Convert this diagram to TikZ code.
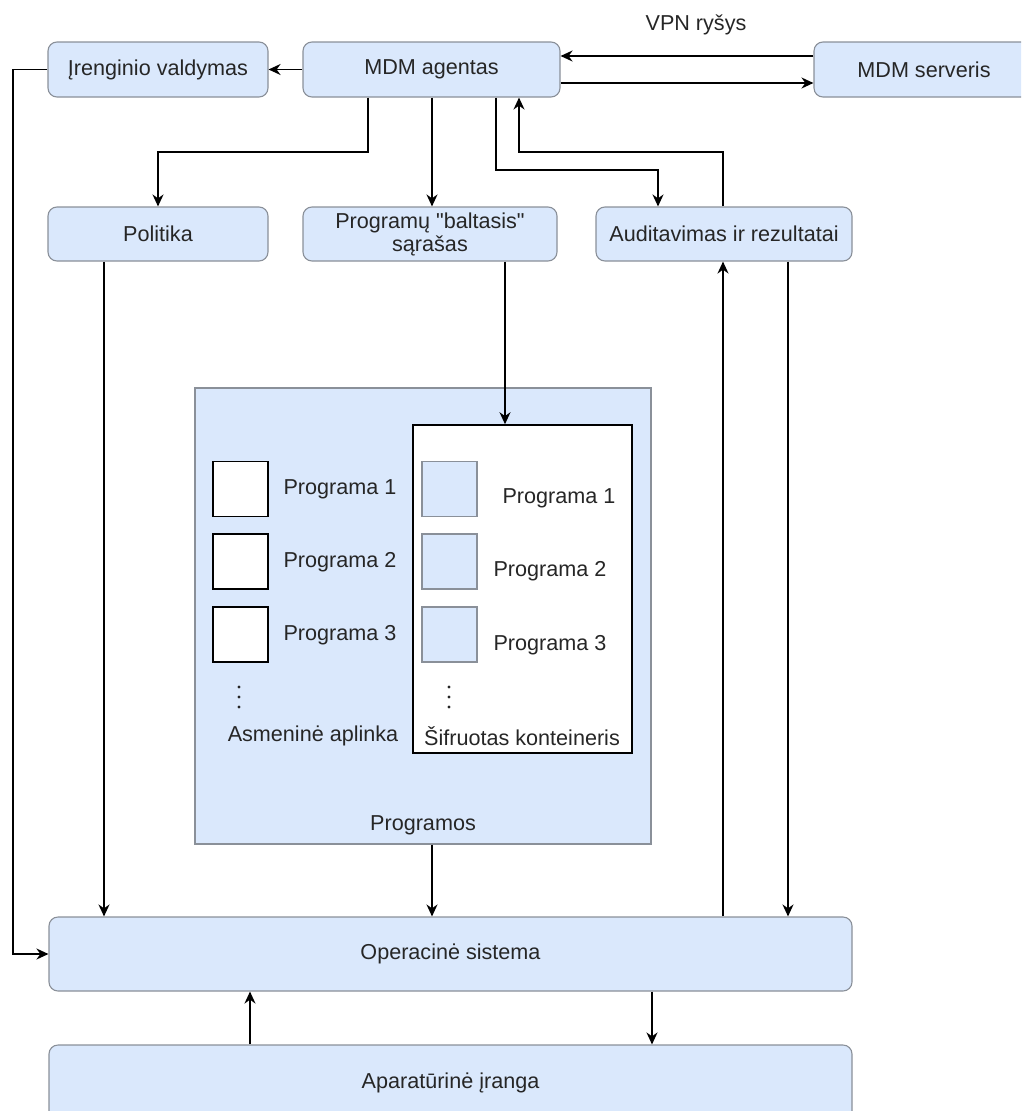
\documentclass[tikz,border=0pt]{standalone}
\usepackage{fontspec}
\setmainfont{Liberation Sans}
\usetikzlibrary{arrows.meta}
\definecolor{boxfill}{HTML}{DAE8FC}
\definecolor{boxline}{HTML}{8A9099}
\definecolor{txt}{HTML}{262626}
\begin{document}
\begin{tikzpicture}[x=1pt,y=-1pt,
  fnt/.style={font=\fontsize{21.6}{24}\selectfont},
  box/.style={draw=boxline, fill=boxfill, rounded corners=9pt, line width=1.1pt, text=txt, fnt, align=center, inner sep=0pt},
  sqbox/.style={draw=boxline, fill=boxfill, line width=1.1pt, inner sep=0pt},
  whitebox/.style={draw=black, fill=white, line width=1.6pt, inner sep=0pt},
  lbl/.style={text=txt, fnt, inner sep=0pt},
  conn/.style={draw=black, line width=1.7pt, -{Stealth[length=12pt,width=11pt]}},
  dot/.style={fill=txt, circle, inner sep=0pt, minimum size=3.4pt}]
\useasboundingbox (0,0) rectangle (1021,1111);
\clip (0,0) rectangle (1021,1111);

% top row
\node[box, minimum width=220pt, minimum height=55pt] (irv) at (158,69.5) {Įrenginio valdymas};
\node[box, minimum width=257pt, minimum height=55pt] (agent) at (431.5,69.5) {MDM agentas};
\node[box, minimum width=220pt, minimum height=55pt] (server) at (924,69.5) {MDM serveris};
\node[lbl] (vpn) at (696,25) {VPN ryšys};

% second row
\node[box, minimum width=220pt, minimum height=54pt] (pol) at (158,234) {Politika};
\node[box, minimum width=254pt, minimum height=54pt] (list) at (430,234) {Programų \textquotedbl baltasis\textquotedbl\\[-1pt]sąrašas};
\node[box, minimum width=256pt, minimum height=54pt] (audit) at (724,234) {Auditavimas ir rezultatai};

% programos block
\node[sqbox, minimum width=456pt, minimum height=456pt] (progs) at (423,616) {};
\node[lbl] (progslbl) at (423,825) {Programos};
\node[whitebox, minimum width=219pt, minimum height=328pt] (cont) at (522.5,589) {};

\node[whitebox, minimum width=55pt, minimum height=55pt] (l1) at (240.5,489) {};
\node[whitebox, minimum width=55pt, minimum height=55pt] (l2) at (240.5,561.5) {};
\node[whitebox, minimum width=55pt, minimum height=55pt] (l3) at (240.5,634.5) {};
\node[lbl] (l1t) at (340,489) {Programa 1};
\node[lbl] (l2t) at (340,562) {Programa 2};
\node[lbl] (l3t) at (340,635) {Programa 3};
\node[dot] (ld1) at (239,687) {};
\node[dot] (ld2) at (239,697) {};
\node[dot] (ld3) at (239,707) {};
\node[lbl] (asm) at (313,736) {Asmeninė aplinka};

\node[sqbox, minimum width=55pt, minimum height=55pt] (r1) at (449.5,489) {};
\node[sqbox, minimum width=55pt, minimum height=55pt] (r2) at (449.5,561.5) {};
\node[sqbox, minimum width=55pt, minimum height=55pt] (r3) at (449.5,634.5) {};
\node[lbl] (r1t) at (559,498) {Programa 1};
\node[lbl] (r2t) at (550,571) {Programa 2};
\node[lbl] (r3t) at (550,645) {Programa 3};
\node[dot] (rd1) at (449,687) {};
\node[dot] (rd2) at (449,697) {};
\node[dot] (rd3) at (449,707) {};
\node[lbl] (sif) at (522,736) {Šifruotas konteineris};

% bottom
\node[box, minimum width=803pt, minimum height=74pt] (os) at (450.5,954) {Operacinė sistema};
\node[box, minimum width=803pt, minimum height=76pt] (hw) at (450.5,1083) {Aparatūrinė įranga};

% helper coordinates
\coordinate (c1) at (368,152);
\coordinate (c2) at (496,170);
\coordinate (c3) at (658,170);
\coordinate (c4) at (723,152);
\coordinate (c5) at (519,152);
\coordinate (c6) at (505,0);
\coordinate (c7) at (104,0);
\coordinate (c8) at (432,0);
\coordinate (c10) at (788,0);
\coordinate (c11) at (13,0);
\coordinate (c12) at (250,0);
\coordinate (c13) at (652,0);
\coordinate (v1) at (0,56);
\coordinate (v2) at (0,83);

% connectors
\draw[conn] (agent.west) -- (irv.east);
\draw[conn] (server.west |- v1) -- (agent.east |- v1);
\draw[conn] (agent.east |- v2) -- (server.west |- v2);
\draw[conn] (agent.south -| c1) -- (c1) -| (pol.north);
\draw[conn] (agent.south -| c8) -- (list.north -| c8);
\draw[conn] (agent.south -| c2) -- (c2) -- (c3) -- (c3 |- audit.north);
\draw[conn] (audit.north -| c4) -- (c4) -- (c5) -- (c5 |- agent.south);
\draw[conn] (list.south -| c6) -- (cont.north -| c6);
\draw[conn] (pol.south -| c7) -- (os.north -| c7);
\draw[conn] (progs.south -| c8) -- (os.north -| c8);
\draw[conn] (os.north -| c4) -- (audit.south -| c4);
\draw[conn] (audit.south -| c10) -- (os.north -| c10);
\draw[conn] (irv.west) -| (c11 |- os.west) -- (os.west);
\draw[conn] (hw.north -| c12) -- (os.south -| c12);
\draw[conn] (os.south -| c13) -- (hw.north -| c13);
\end{tikzpicture}
\end{document}
